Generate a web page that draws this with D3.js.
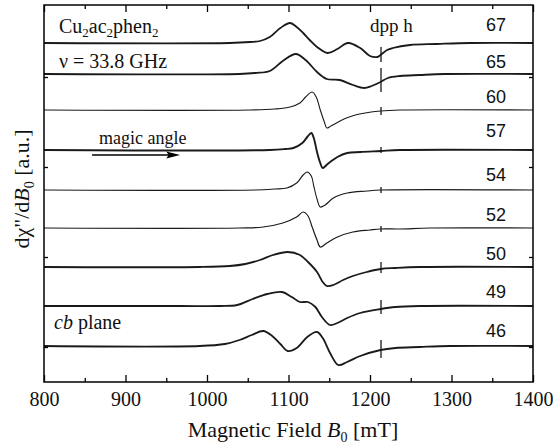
<!DOCTYPE html>
<html><head><meta charset="utf-8">
<script src="https://cdn.jsdelivr.net/npm/d3@7/dist/d3.min.js"></script>
<style>
body{margin:0;background:#fff;}
svg{display:block;}
.serif{font-family:'Liberation Serif','Times New Roman',serif;}
.sans{font-family:'Liberation Sans',Arial,sans-serif;}
</style></head>
<body>
<svg id="chart" width="553" height="446"></svg>
<script>
// ---- data (field in mT, signal in a.u. relative to each trace's baseline) ----
const angles = [67, 65, 60, 57, 54, 52, 50, 49, 46];
const offsets = [339, 308, 272, 232, 192, 154, 115, 76, 36];
const xTicks = [800, 900, 1000, 1100, 1200, 1300, 1400];
const yTicks = [35, 125, 215, 305];
const dpphField = 1213.5;

const trace67 = [[800,0],[1028,0],[1053,1],[1065,2],[1077,6],[1090,15],[1102,20],[1110,16],[1118,10],[1126,3],[1135,-4],[1148,-10],[1160,-6],[1173,0],[1188,-5],[1200,-13],[1209,-14],[1213,-12],[1221,-7],[1228,-5],[1249,-2],[1282,-1],[1323,0],[1400,0]];
const trace65 = [[800,0],[1040,0],[1059,1],[1077,3],[1093,13],[1109,20],[1121,14],[1135,2],[1147,-5],[1163,-6],[1179,-11],[1193,-14],[1202,-12],[1213,-8],[1222,-4],[1237,-2],[1261,-1],[1292,0],[1400,0]];
const trace60 = [[800,0],[1053,0],[1083,1],[1102,3],[1114,7],[1121,13],[1129,18],[1134,13],[1139,0],[1144,-12],[1147,-18],[1152,-16],[1161,-12],[1171,-8],[1182,-5],[1194,-3],[1213,-1],[1237,0],[1400,0]];
const trace57 = [[800,0],[1077,0],[1096,1],[1106,2],[1117,7],[1123,13],[1128,17],[1131,12],[1135,-2],[1139,-13],[1142,-18],[1148,-14],[1160,-7],[1172,-3],[1188,-2],[1213,-1],[1237,0],[1400,0]];
const trace54 = [[800,0],[1059,0],[1083,1],[1098,2],[1110,7],[1118,15],[1123,18],[1128,14],[1131,4],[1135,-9],[1139,-17],[1145,-15],[1155,-8],[1172,-3],[1196,-1],[1213,0],[1400,0]];
const trace52 = [[800,0],[1040,0],[1069,1],[1093,5],[1110,11],[1118,16],[1124,12],[1129,1],[1135,-12],[1139,-19],[1147,-15],[1160,-9],[1179,-4],[1200,-2],[1213,-1],[1237,-1],[1274,0],[1400,0]];
const trace50 = [[800,0],[991,0],[1028,1],[1047,3],[1065,7],[1081,12],[1099,15],[1114,12],[1124,5],[1135,-5],[1142,-15],[1147,-19],[1155,-18],[1167,-13],[1179,-9],[1196,-5],[1213,-2],[1231,-1],[1261,0],[1400,0]];
const trace49 = [[800,0],[967,0],[1016,0],[1037,1],[1056,7],[1074,12],[1092,14],[1104,9],[1114,4],[1124,4],[1133,-1],[1141,-11],[1151,-19],[1160,-17],[1172,-12],[1188,-7],[1213,-3],[1231,-1],[1261,0],[1400,0]];
const trace46 = [[800,0],[991,0],[1022,2],[1040,6],[1055,11],[1069,15],[1080,10],[1090,2],[1099,-5],[1110,-2],[1123,9],[1135,14],[1142,8],[1151,-7],[1161,-19],[1172,-16],[1188,-10],[1213,-4],[1231,-2],[1261,-1],[1298,0],[1400,0]];
const traces = [trace67, trace65, trace60, trace57, trace54, trace52, trace50, trace49, trace46];
// dpph marker: [top, bottom] relative to baseline, per trace
const dpphSpikes = [[-4,-19],[6,-18],[3,-5],[3,-3],[3,-3],[2,-4],[5,-6],[6,-8],[6,-12]];
const strokeWidths = [1.8, 1.8, 1.1, 1.9, 1.1, 1.2, 1.8, 1.8, 1.8];

// ---- layout ----
const W = 553, H = 446;
const m = {left: 44, right: 20, top: 5, bottom: 64};
const svg = d3.select("#chart");
const x = d3.scaleLinear().domain([800, 1400]).range([m.left, W - m.right]);
const y = d3.scaleLinear().domain([0, 377]).range([H - m.bottom, m.top]);

// traces
const line = d3.line().curve(d3.curveCatmullRom.alpha(0.5));
traces.forEach((tr, i) => {
  svg.append("path")
    .attr("d", line.x(d => x(d[0])).y(d => y(offsets[i] + d[1]))(tr))
    .attr("fill", "none")
    .attr("stroke", "#1a1a1a")
    .attr("stroke-width", strokeWidths[i])
    .attr("stroke-linejoin", "round");
  svg.append("line")
    .attr("x1", x(dpphField)).attr("x2", x(dpphField))
    .attr("y1", y(offsets[i] + dpphSpikes[i][0])).attr("y2", y(offsets[i] + dpphSpikes[i][1]))
    .attr("stroke", "#1a1a1a").attr("stroke-width", 1.3);
});

// axes (ticks inward)
const minor = d3.range(850, 1400, 100);
function addAxis(axisGen, transform) {
  const g = svg.append("g").attr("transform", transform).call(axisGen);
  g.select(".domain").remove();
  g.attr("font-family", null).attr("font-size", null);
  g.selectAll("line").attr("stroke", "#000").attr("stroke-width", 1.3);
  return g;
}
const bottomMajor = addAxis(d3.axisBottom(x).tickValues(xTicks).tickSize(-7).tickPadding(10).tickFormat(d3.format("d")), `translate(0,${H - m.bottom})`);
bottomMajor.selectAll("text").attr("class", "serif").attr("font-size", 20).attr("fill", "#111");
addAxis(d3.axisBottom(x).tickValues(minor).tickSize(-4).tickFormat(""), `translate(0,${H - m.bottom})`);
addAxis(d3.axisTop(x).tickValues(xTicks).tickSize(-7).tickFormat(""), `translate(0,${m.top})`);
addAxis(d3.axisTop(x).tickValues(minor).tickSize(-4).tickFormat(""), `translate(0,${m.top})`);
addAxis(d3.axisLeft(y).tickValues(yTicks).tickSize(-4).tickFormat(""), `translate(${m.left},0)`);
addAxis(d3.axisRight(y).tickValues(yTicks).tickSize(-4).tickFormat(""), `translate(${W - m.right},0)`);

// frame
svg.append("rect").attr("x", m.left).attr("y", m.top)
  .attr("width", W - m.left - m.right).attr("height", H - m.top - m.bottom)
  .attr("fill", "none").attr("stroke", "#000").attr("stroke-width", 1.5);

// angle labels
const labelBaselines = [31, 68, 103, 137, 181, 221, 260, 298, 337];
angles.forEach((a, i) => {
  svg.append("text").attr("class", "sans").attr("x", 496).attr("y", labelBaselines[i])
    .attr("text-anchor", "middle").attr("font-size", 18)
    .attr("fill", "#111").text(a);
});

// annotations
const t1 = svg.append("text").attr("class", "serif").attr("x", 59).attr("y", 33).attr("font-size", 20).attr("fill", "#111");
t1.append("tspan").text("Cu");
t1.append("tspan").attr("font-size", 13).attr("dy", 4).text("2");
t1.append("tspan").attr("dy", -4).text("ac");
t1.append("tspan").attr("font-size", 13).attr("dy", 4).text("2");
t1.append("tspan").attr("dy", -4).text("phen");
t1.append("tspan").attr("font-size", 13).attr("dy", 4).text("2");

svg.append("text").attr("class", "serif").attr("x", 59).attr("y", 68).attr("font-size", 20)
  .attr("fill", "#111").text("ν = 33.8 GHz");

svg.append("text").attr("class", "serif").attr("x", 99).attr("y", 144).attr("font-size", 18)
  .attr("fill", "#111").text("magic angle");

// arrow
svg.append("line").attr("x1", x(859)).attr("x2", x(958)).attr("y1", y(227)).attr("y2", y(227))
  .attr("stroke", "#000").attr("stroke-width", 1.4);
svg.append("path")
  .attr("d", `M${x(967)},${y(227)} L${x(950)},${y(227) - 3.5} L${x(953)},${y(227)} L${x(950)},${y(227) + 3.5} Z`)
  .attr("fill", "#000");

svg.append("text").attr("class", "serif").attr("x", 370).attr("y", 32).attr("font-size", 19)
  .attr("fill", "#111").text("dpp h");

const cb = svg.append("text").attr("class", "serif").attr("x", 54).attr("y", 329).attr("font-size", 20).attr("fill", "#111");
cb.append("tspan").attr("font-style", "italic").text("cb");
cb.append("tspan").text(" plane");

// axis titles
const xt = svg.append("text").attr("class", "serif").attr("x", 293).attr("y", 437).attr("text-anchor", "middle")
  .attr("font-size", 22).attr("fill", "#111");
xt.append("tspan").text("Magnetic Field ");
xt.append("tspan").attr("font-style", "italic").text("B");
xt.append("tspan").attr("font-size", 14).attr("dy", 5).text("0");
xt.append("tspan").attr("dy", -5).text(" [mT]");

const yt = svg.append("text").attr("class", "serif").attr("transform", "translate(29,189) rotate(-90)").attr("text-anchor", "middle")
  .attr("font-size", 22).attr("fill", "#111");
yt.append("tspan").text("dχ\"/d");
yt.append("tspan").attr("font-style", "italic").text("B");
yt.append("tspan").attr("font-size", 14).attr("dy", 5).text("0");
yt.append("tspan").attr("dy", -5).text(" [a.u.]");
</script>
</body></html>
